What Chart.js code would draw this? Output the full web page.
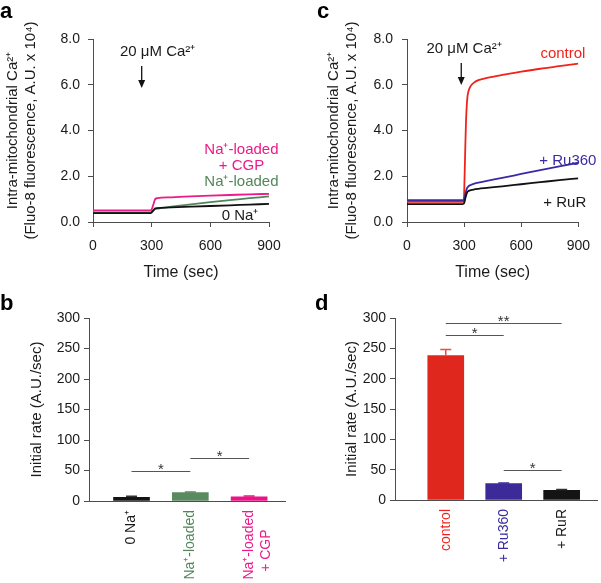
<!DOCTYPE html>
<html>
<head>
<meta charset="utf-8">
<script src="https://cdn.jsdelivr.net/npm/chart.js@4.4.0/dist/chart.umd.min.js"></script>
<style>
  html, body { margin: 0; padding: 0; background: #fff; }
  #wrap { position: relative; width: 601px; height: 583px; }
  canvas { position: absolute; }
</style>
</head>
<body>
<div id="wrap">
  <canvas id="pa" width="300" height="290" style="left:0;top:0"></canvas>
  <canvas id="pc" width="301" height="290" style="left:300px;top:0"></canvas>
  <canvas id="pb" width="300" height="293" style="left:0;top:290px"></canvas>
  <canvas id="pd" width="301" height="293" style="left:300px;top:290px"></canvas>
</div>
<script>
// ---- panel a: Fluo-8 traces (A.U. x 10^4) ----
const timeA    = [0, 295, 300, 310, 318, 330, 400, 500, 600, 700, 800, 900];
const zeroNa   = [0.39, 0.39, 0.42, 0.52, 0.60, 0.61, 0.64, 0.67, 0.70, 0.73, 0.76, 0.79];
const naLoaded = [0.42, 0.42, 0.45, 0.52, 0.57, 0.59, 0.67, 0.77, 0.87, 0.96, 1.04, 1.12];
const naCgp    = [0.51, 0.51, 0.55, 0.80, 1.00, 1.04, 1.08, 1.12, 1.15, 1.18, 1.21, 1.23];

// ---- panel c ----
const timeC   = [0, 290, 298, 302, 306, 310, 314, 318, 324, 335, 350, 375, 420, 500, 600, 700, 800, 900];
const control = [0.88, 0.88, 0.90, 1.80, 3.20, 4.40, 5.10, 5.50, 5.75, 5.95, 6.08, 6.20, 6.30, 6.43, 6.57, 6.70, 6.81, 6.92];
const ru360   = [0.95, 0.95, 0.97, 1.05, 1.20, 1.35, 1.45, 1.52, 1.57, 1.62, 1.67, 1.72, 1.80, 1.93, 2.10, 2.27, 2.43, 2.59];
const ruR     = [0.78, 0.78, 0.80, 0.88, 1.02, 1.15, 1.25, 1.32, 1.36, 1.39, 1.42, 1.45, 1.49, 1.56, 1.65, 1.74, 1.83, 1.91];

// ---- panel b: initial rates ----
const catsB = [['0 Na⁺'], ['Na⁺-loaded'], ['Na⁺-loaded', '+ CGP     ']];
const rateB = [6, 13.6, 7];
const errB  = [1.8, 1.0, 1.0];
const sigB  = [[0, 1, 50, '*'], [1, 2, 70, '*']];   // [from, to, level, mark]

// ---- panel d ----
const catsD = ['control', '+ Ru360', '+ RuR'];
const rateD = [238, 27, 16];
const errD  = [10, 1.2, 1.5];
const sigD  = [[0, 1, 272, '*'], [0, 2, 292, '**'], [1, 2, 50, '*']];

const fontFam = 'Arial, "Liberation Sans", Helvetica, sans-serif';
const axisColor = '#4d4d4d';
const ink = '#1a1a1a';
const pink = '#ec1a8a', green = '#52865a', red = '#f0231c', blue = '#3a2aa2', black = '#111111';

Chart.defaults.font.family = fontFam;
Chart.defaults.color = ink;

const yTitleTrace = ['Intra-mitochondrial Ca²⁺', '(Fluo-8 fluorescence, A.U. x 10⁴)'];

function trace(times, vals, color) {
  return {
    data: times.map((t, i) => ({ x: t, y: vals[i] })),
    borderColor: color, borderWidth: 1.8, pointRadius: 0,
    cubicInterpolationMode: 'monotone', fill: false
  };
}

function lineOptions(yWidth, titlePad, tickPad, padRight) {
  return {
    responsive: false, animation: false, devicePixelRatio: 1,
    layout: { padding: { left: 0, right: padRight, top: 39, bottom: 0 } },
    plugins: { legend: { display: false }, tooltip: { enabled: false } },
    scales: {
      x: {
        type: 'linear', min: 0, max: 900,
        ticks: { stepSize: 300, font: { size: 14 }, color: ink, padding: 11 },
        grid: { drawOnChartArea: false, tickLength: 5, color: axisColor },
        border: { color: axisColor },
        title: { display: true, text: 'Time (sec)', font: { size: 16 }, color: ink, padding: { top: 0, bottom: 8 } },
        afterFit: s => { s.height = 68; }
      },
      y: {
        min: 0, max: 8,
        ticks: { stepSize: 2, font: { size: 14 }, color: ink, padding: tickPad, callback: v => v.toFixed(1) },
        grid: { drawOnChartArea: false, tickLength: 5, color: axisColor },
        border: { color: axisColor },
        title: { display: true, text: yTitleTrace, color: ink, font: { size: 15, lineHeight: 1.2 }, padding: { top: titlePad, bottom: 0 } },
        afterFit: s => { s.width = yWidth; }
      }
    }
  };
}

function tracePlugin(letter, letterX, notes, arrow) {
  return {
    id: 'traceNotes',
    afterDraw(chart) {
      const { ctx, scales: { x, y } } = chart;
      ctx.save();
      ctx.font = 'bold 22px ' + fontFam;
      ctx.fillStyle = '#000';
      ctx.textBaseline = 'alphabetic';
      ctx.textAlign = 'left';
      ctx.fillText(letter, letterX, 18);

      ctx.font = '15px ' + fontFam;
      ctx.textBaseline = 'middle';
      notes.forEach(n => {
        ctx.fillStyle = n.color;
        ctx.textAlign = n.align || 'center';
        ctx.fillText(n.text, x.getPixelForValue(n.t), y.getPixelForValue(n.v));
      });

      // stimulus arrow
      const ax = x.getPixelForValue(arrow.t);
      const y1 = y.getPixelForValue(arrow.from), y2 = y.getPixelForValue(arrow.to);
      ctx.strokeStyle = '#111';
      ctx.fillStyle = '#111';
      ctx.lineWidth = 1.3;
      ctx.beginPath(); ctx.moveTo(ax, y1); ctx.lineTo(ax, y2 - 6); ctx.stroke();
      ctx.beginPath(); ctx.moveTo(ax - 3.5, y2 - 8); ctx.lineTo(ax + 3.5, y2 - 8); ctx.lineTo(ax, y2); ctx.closePath(); ctx.fill();
      ctx.restore();
    }
  };
}

new Chart(document.getElementById('pa'), {
  type: 'line',
  data: { datasets: [trace(timeA, zeroNa, black), trace(timeA, naLoaded, green), trace(timeA, naCgp, pink)] },
  options: lineOptions(93, 4, 8, 31),
  plugins: [tracePlugin('a', 0, [
    { text: '20 μM Ca²⁺', t: 138, v: 7.43, color: ink, align: 'left' },
    { text: 'Na⁺-loaded', t: 759, v: 3.17, color: pink },
    { text: '+ CGP', t: 759, v: 2.45, color: pink },
    { text: 'Na⁺-loaded', t: 759, v: 1.74, color: green },
    { text: '0 Na⁺', t: 752, v: 0.27, color: ink }
  ], { t: 249, from: 6.82, to: 5.86 })]
});

new Chart(document.getElementById('pc'), {
  type: 'line',
  data: { datasets: [trace(timeC, ruR, black), trace(timeC, ru360, blue), trace(timeC, control, red)] },
  options: lineOptions(107, 25, 9, 17),
  plugins: [tracePlugin('c', 17, [
    { text: '20 μM Ca²⁺', t: 102, v: 7.56, color: ink, align: 'left' },
    { text: 'control', t: 819, v: 7.34, color: red },
    { text: '+ Ru360', t: 845, v: 2.66, color: blue },
    { text: '+ RuR', t: 829, v: 0.83, color: ink }
  ], { t: 285, from: 6.95, to: 5.99 })]
});

function barOptions(cats, labelColors, xmin, xmax, yWidth, padRight, xHeight, titlePad) {
  return {
    responsive: false, animation: false, devicePixelRatio: 1,
    layout: { padding: { left: 0, right: padRight, top: 28, bottom: 0 } },
    plugins: { legend: { display: false }, tooltip: { enabled: false } },
    scales: {
      x: {
        type: 'linear', min: xmin, max: xmax, bounds: 'data', offset: false,
        afterBuildTicks: s => { s.ticks = cats.map((c, i) => ({ value: i })); },
        ticks: {
          autoSkip: false, minRotation: 90, maxRotation: 90, padding: 1,
          font: { size: 14 }, color: c => labelColors[c.index], callback: v => cats[v]
        },
        grid: { display: false },
        border: { color: axisColor },
        afterFit: s => { s.height = xHeight; }
      },
      y: {
        min: 0, max: 300,
        ticks: { stepSize: 50, font: { size: 14 }, color: ink, padding: 4 },
        grid: { drawOnChartArea: false, tickLength: 5, color: axisColor },
        border: { color: axisColor },
        title: { display: true, text: 'Initial rate (A.U./sec)', color: ink, font: { size: 15 }, padding: { top: titlePad, bottom: 0 } },
        afterFit: s => { s.width = yWidth; }
      }
    }
  };
}

function barPlugin(letter, letterX, vals, errs, errColors, sigs) {
  return {
    id: 'barNotes',
    afterDraw(chart) {
      const { ctx, scales: { x, y } } = chart;
      ctx.save();
      ctx.font = 'bold 22px ' + fontFam;
      ctx.fillStyle = '#000';
      ctx.textAlign = 'left';
      ctx.textBaseline = 'alphabetic';
      ctx.fillText(letter, letterX, 20);

      // error bars (upper only)
      ctx.lineWidth = 1.5;
      vals.forEach((v, i) => {
        const px = x.getPixelForValue(i);
        const top = y.getPixelForValue(v + errs[i]);
        ctx.strokeStyle = errColors[i];
        ctx.beginPath();
        ctx.moveTo(px, y.getPixelForValue(v));
        ctx.lineTo(px, top);
        ctx.moveTo(px - 5.5, top);
        ctx.lineTo(px + 5.5, top);
        ctx.stroke();
      });

      // significance brackets
      ctx.strokeStyle = '#555';
      ctx.fillStyle = '#333';
      ctx.lineWidth = 1;
      ctx.font = '15px ' + fontFam;
      ctx.textAlign = 'center';
      sigs.forEach(([a, b, level, mark]) => {
        const x1 = x.getPixelForValue(a), x2 = x.getPixelForValue(b);
        const py = Math.round(y.getPixelForValue(level)) + 0.5;
        ctx.beginPath(); ctx.moveTo(x1, py); ctx.lineTo(x2, py); ctx.stroke();
        ctx.fillText(mark, (x1 + x2) / 2, py + 2);
      });
      ctx.restore();
    }
  };
}

new Chart(document.getElementById('pb'), {
  type: 'bar',
  data: { datasets: [{
    data: rateB.map((v, i) => ({ x: i, y: v })),
    backgroundColor: ['#141414', '#5a8a60', '#ec1387'],
    barThickness: 36, borderWidth: 0
  }] },
  options: barOptions(catsB, [ink, green, pink], -0.723, 2.61, 89, 15, 82, 28),
  plugins: [barPlugin('b', 0, rateB, errB, ['#333', '#5a8a60', '#ec1387'], sigB)]
});

new Chart(document.getElementById('pd'), {
  type: 'bar',
  data: { datasets: [{
    data: rateD.map((v, i) => ({ x: i, y: v })),
    backgroundColor: ['#e0271d', '#3b2a98', '#141414'],
    barThickness: 36, borderWidth: 0
  }] },
  options: barOptions(catsD, [red, blue, ink], -0.876, 2.61, 95, 4, 83, 43),
  plugins: [barPlugin('d', 15, rateD, errD, ['#ef4a44', '#3b2a98', '#333'], sigD)]
});
</script>
</body>
</html>
